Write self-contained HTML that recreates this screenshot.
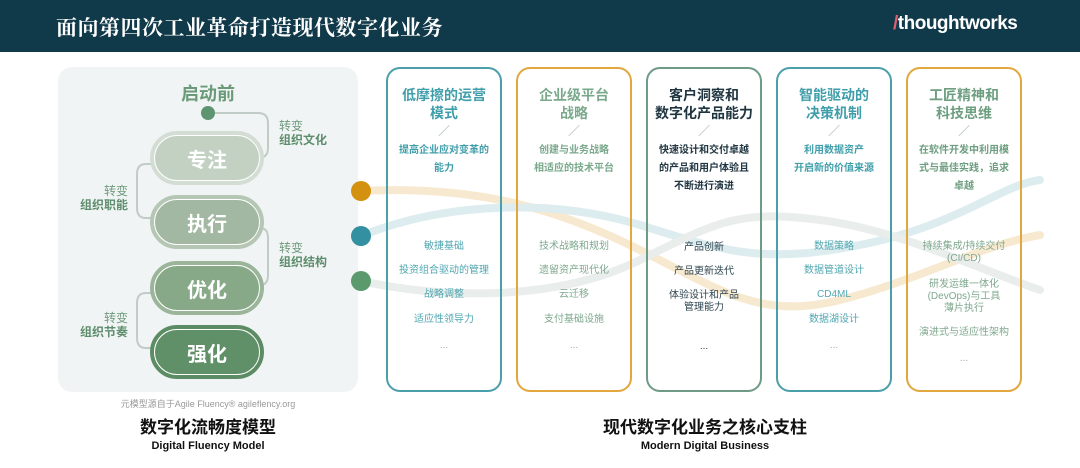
<!DOCTYPE html>
<html><head><meta charset="utf-8"><style>
*{margin:0;padding:0;box-sizing:border-box}
body{width:1080px;height:468px;background:#fff;position:relative;overflow:hidden;font-family:"Liberation Sans","Noto Sans CJK SC",sans-serif}
.a{position:absolute}
.hdr{left:0;top:0;width:1080px;height:52px;background:#10394a}
.title{left:56px;top:12px;color:#fff;font:bold 21px "Noto Serif CJK SC",serif;letter-spacing:0.5px}
.logo{left:893px;top:13px;color:#fff;font:bold 19px "Liberation Sans",sans-serif;letter-spacing:-0.5px}
.logo span{color:#e0606e}
.panel{left:58px;top:67px;width:300px;height:325px;background:#f1f4f5;border-radius:14px}
.pill{width:114px;height:54px;border-radius:27px;border:4px solid;display:flex;align-items:center;justify-content:center}
.pill div{width:100%;height:100%;border-radius:24px;border:1.5px solid #fff;display:flex;align-items:center;justify-content:center;color:#fff;font-weight:bold;font-size:20px}
.lbl{font-size:12px;color:#6e9a7c;line-height:14px}
.lbl b{color:#5d8d6c}
.card{top:67px;width:116px;height:325px;border:2px solid;border-radius:14px;text-align:center}
.card .t{position:absolute;left:0;right:0;top:17px;font-weight:bold;font-size:14px;line-height:18px}
.card .s{position:absolute;left:0;right:0;top:53px;font-size:12px;color:#9aa;}
.card .d{position:absolute;left:0;right:0;top:73px;font-weight:bold;font-size:10px;line-height:18px}
.card .i{position:absolute;left:0;right:0;font-size:10px;line-height:12px}
.dot{width:20px;height:20px;border-radius:50%}
.cap{text-align:center;font-weight:bold}
</style></head><body>
<div class="a hdr"></div>
<div class="a title">面向第四次工业革命打造现代数字化业务</div>
<div class="a logo"><span>/</span>thoughtworks</div>
<div class="a panel"></div>

<svg class="a" style="left:0;top:0" width="1080" height="468">
<g fill="none" stroke-width="8" stroke-linecap="round" opacity="0.3">
<path d="M361,191 C480,185 560,210 640,250 S760,320 840,300 S980,245 1040,235" stroke="#e8b864"/>
<path d="M361,236 C450,200 560,200 640,225 S760,265 860,245 S1000,185 1040,180" stroke="#8fc2cb"/>
<path d="M361,281 C450,300 560,300 640,260 S740,210 820,220 S980,270 1040,290" stroke="#b9c4c2"/>
</g>
<g fill="none" stroke="#c2ccc6" stroke-width="2">
<path d="M208,113 H258 Q268,113 268,123 V148 Q268,158 258,158 H256"/>
<path d="M158,164 H146 Q137,164 137,174 V208 Q137,218 146,218 H158"/>
<path d="M256,228 H260 Q268,228 268,238 V275 Q268,285 260,285 H256"/>
<path d="M158,293 H146 Q137,293 137,303 V338 Q137,348 146,348 H158"/>
</g>
<circle cx="208" cy="113" r="7" fill="#5f9470"/>
</svg>

<div class="a" style="left:158px;top:80px;width:100px;text-align:center;font-weight:bold;font-size:18px;color:#6a9a78">启动前</div>
<div class="a pill" style="left:150px;top:131px;border-color:#d4ddd4;background:#c3d1c3"><div>专注</div></div>
<div class="a pill" style="left:150px;top:195px;border-color:#b5c6b4;background:#a3b8a2"><div>执行</div></div>
<div class="a pill" style="left:150px;top:261px;border-color:#9bb59b;background:#88a988"><div>优化</div></div>
<div class="a pill" style="left:150px;top:325px;border-color:#5b8c64;background:#5f9068"><div>强化</div></div>
<div class="a lbl" style="left:279px;top:119px">转变<br><b>组织文化</b></div>
<div class="a lbl" style="left:70px;top:184px;text-align:right;width:58px">转变<br><b>组织职能</b></div>
<div class="a lbl" style="left:279px;top:241px">转变<br><b>组织结构</b></div>
<div class="a lbl" style="left:70px;top:311px;text-align:right;width:58px">转变<br><b>组织节奏</b></div>

<div class="a dot" style="left:351px;top:181px;background:#d4900f"></div>
<div class="a dot" style="left:351px;top:226px;background:#3390a0"></div>
<div class="a dot" style="left:351px;top:271px;background:#5b9a6d"></div>

<div class="a card" style="left:386px;border-color:#4b9faa">
<div class="t" style="color:#3f9eaa">低摩擦的运营<br>模式</div><div class="s">／</div>
<div class="d" style="color:#3f9eaa">提高企业应对变革的<br>能力</div>
<div class="i" style="top:172px;color:#4fa6b0">敏捷基础</div>
<div class="i" style="top:196px;color:#4fa6b0">投资组合驱动的管理</div>
<div class="i" style="top:220px;color:#4fa6b0">战略调整</div>
<div class="i" style="top:245px;color:#4fa6b0">适应性领导力</div>
<div class="i" style="top:271px;color:#9ab">...</div></div>

<div class="a card" style="left:516px;border-color:#e2a73e">
<div class="t" style="color:#79a88b">企业级平台<br>战略</div><div class="s">／</div>
<div class="d" style="color:#79a88b">创建与业务战略<br>相适应的技术平台</div>
<div class="i" style="top:172px;color:#7fa88e">技术战略和规划</div>
<div class="i" style="top:196px;color:#7fa88e">遗留资产现代化</div>
<div class="i" style="top:220px;color:#7fa88e">云迁移</div>
<div class="i" style="top:245px;color:#7fa88e">支付基础设施</div>
<div class="i" style="top:271px;color:#9ab">...</div></div>

<div class="a card" style="left:646px;border-color:#6f9a86">
<div class="t" style="color:#1f3540">客户洞察和<br>数字化产品能力</div><div class="s">／</div>
<div class="d" style="color:#1f3540">快速设计和交付卓越<br>的产品和用户体验且<br>不断进行演进</div>
<div class="i" style="top:173px;color:#2e4550">产品创新</div>
<div class="i" style="top:197px;color:#2e4550">产品更新迭代</div>
<div class="i" style="top:221px;color:#2e4550">体验设计和产品<br>管理能力</div>
<div class="i" style="top:272px;color:#2e4550">...</div></div>

<div class="a card" style="left:776px;border-color:#4b9faa">
<div class="t" style="color:#3f9eaa">智能驱动的<br>决策机制</div><div class="s">／</div>
<div class="d" style="color:#3f9eaa">利用数据资产<br>开启新的价值来源</div>
<div class="i" style="top:172px;color:#4fa6b0">数据策略</div>
<div class="i" style="top:196px;color:#4fa6b0">数据管道设计</div>
<div class="i" style="top:220px;color:#4fa6b0">CD4ML</div>
<div class="i" style="top:245px;color:#4fa6b0">数据湖设计</div>
<div class="i" style="top:271px;color:#9ab">...</div></div>

<div class="a card" style="left:906px;border-color:#e2a73e">
<div class="t" style="color:#6d9e80">工匠精神和<br>科技思维</div><div class="s">／</div>
<div class="d" style="color:#6d9e80">在软件开发中利用模<br>式与最佳实践，追求<br>卓越</div>
<div class="i" style="top:172px;color:#7fa88e">持续集成/持续交付<br>(CI/CD)</div>
<div class="i" style="top:210px;color:#7fa88e">研发运维一体化<br>(DevOps)与工具<br>薄片执行</div>
<div class="i" style="top:258px;color:#7fa88e">演进式与适应性架构</div>
<div class="i" style="top:284px;color:#9ab">...</div></div>

<div class="a cap" style="left:108px;top:398px;width:200px;font-size:9px;line-height:12px;font-weight:normal;color:#999">元模型源自于Agile Fluency® agileflency.org</div>
<div class="a cap" style="left:108px;top:417px;width:200px;font-size:17px;line-height:21px;color:#111">数字化流畅度模型</div>
<div class="a cap" style="left:108px;top:439px;width:200px;font-size:11px;line-height:14px;color:#111">Digital Fluency Model</div>
<div class="a cap" style="left:555px;top:417px;width:300px;font-size:17px;line-height:21px;color:#111">现代数字化业务之核心支柱</div>
<div class="a cap" style="left:555px;top:439px;width:300px;font-size:11px;line-height:14px;color:#111">Modern Digital Business</div>
</body></html>
